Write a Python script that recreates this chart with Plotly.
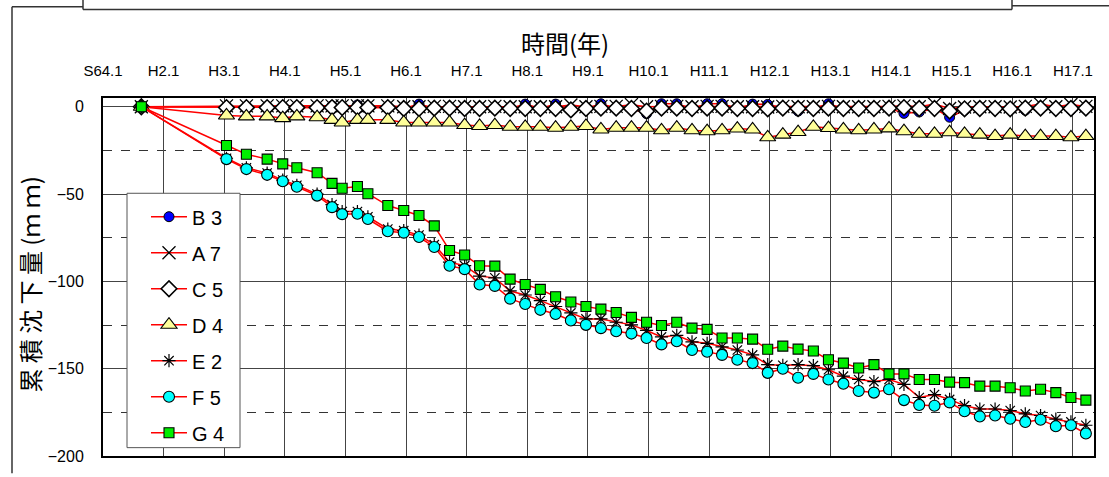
import plotly.graph_objects as go

# Survey dates (first reading, then irregular, then quarterly)
dates = [
    "1989-08-20",
    "1991-01-15", "1991-05-15", "1991-09-17", "1991-12-20",
    "1992-03-14", "1992-07-14", "1992-10-12", "1992-12-12",
    "1993-03-14", "1993-05-16", "1993-09-13", "1993-12-18",
    "1994-03-20", "1994-06-20", "1994-09-20", "1994-12-20",
    "1995-03-20", "1995-06-20", "1995-09-20", "1995-12-20",
    "1996-03-20", "1996-06-20", "1996-09-20", "1996-12-20",
    "1997-03-20", "1997-06-20", "1997-09-20", "1997-12-20",
    "1998-03-20", "1998-06-20", "1998-09-20", "1998-12-20",
    "1999-03-20", "1999-06-20", "1999-09-20", "1999-12-20",
    "2000-03-20", "2000-06-20", "2000-09-20", "2000-12-20",
    "2001-03-20", "2001-06-20", "2001-09-20", "2001-12-20",
    "2002-03-20", "2002-06-20", "2002-09-20", "2002-12-20",
    "2003-03-20", "2003-06-20", "2003-09-20", "2003-12-20",
    "2004-03-20", "2004-06-20", "2004-09-20", "2004-12-20",
    "2005-03-20",
]

# Cumulative settlement (mm) per benchmark
b3 = [0, -0.5, -0.5, -0.5, -0.5, -0.5, -0.5, 0.5, -0.5, 1.0, -0.5, -0.5, -1.0,
      1.5, -0.8, -0.8, -1.0, -1.0, -0.8, -1.0, 1.5, -1.0, 1.5, -1.8, -1.0,
      1.7, -0.8, -1.0, -4.0, 1.7, 1.7, -1.0, 1.7, 1.7, -1.0, 1.5, 1.3,
      -0.8, -2.5, -1.0, 1.7, -1.0, -1.0, -1.0, -0.8, -3.8, -3.0, -1.0,
      -6.0, -2.0, -1.0, -1.0, -1.2, -2.0, -0.8, -1.0, -1.8, -0.8]
a7 = [0, 0.5, 0.5, 0.5, 0.5, 0.5, 0.5, 0.5, 0.5, 0.5, 0.5, 0.5, 0.0,
      0.0, 0.2, 0.2, 0.0, 0.0, 0.2, 0.0, 0.0, 0.0, 0.0, 1.0, 0.0,
      0.2, 0.2, 1.2, 0.0, 0.2, 0.2, 0.0, 0.2, 0.2, 0.0, 0.0, -0.2,
      0.2, 0.0, 0.0, 0.2, 0.0, 0.0, 0.0, 0.2, 0.5, 0.0, 1.5,
      -1.0, -0.2, 0.0, 0.0, -0.2, 0.2, 1.5, 0.0, 1.3, 0.2]
c5 = [0, -0.5, -0.5, -0.5, -0.5, -0.5, -0.5, -0.5, -0.5, -0.5, -0.5, -0.5, -1.0,
      -1.0, -0.8, -0.8, -1.0, -1.0, -0.8, -1.0, -1.0, -1.0, -1.0, -1.8, -1.0,
      -0.8, -0.8, -1.0, -2.5, -0.8, -0.8, -1.0, -0.8, -0.8, -1.0, -1.0, -1.2,
      -0.8, -1.0, -1.0, -0.8, -1.0, -1.0, -1.0, -0.8, -0.5, -1.0, -1.0,
      -2.5, -1.2, -1.0, -1.0, -1.2, -0.8, -0.8, -1.0, -1.0, -0.8]
d4 = [0, -5.0, -5.5, -5.5, -6.5, -5.5, -6.0, -7.5, -9.0, -7.5, -7.5, -7.5, -9.0,
      -9.0, -9.0, -9.0, -10.5, -11.0, -10.5, -11.5, -11.5, -11.5, -12.0, -11.5, -11.0,
      -13.0, -12.0, -12.0, -12.0, -13.5, -12.0, -13.5, -14.0, -13.5, -12.5, -13.0, -17.5,
      -16.0, -14.5, -11.5, -12.2, -13.0, -13.5, -13.0, -12.4, -14.0, -15.5, -15.5,
      -14.6, -15.5, -16.0, -16.8, -16.0, -16.8, -16.8, -16.8, -17.5, -16.8]
e2 = [0, -29.5, -35.0, -38.0, -42.0, -45.0, -50.0, -56.0, -60.0, -60.0, -63.0, -70.0, -71.0,
      -73.5, -79.0, -89.0, -91.0, -97.0, -98.0, -105.5, -107.8, -111.0, -114.4, -118.1, -121.5,
      -121.5, -123.4, -124.9, -128.1, -131.8, -130.9, -134.6, -135.5, -137.5, -139.3, -142.1, -147.7,
      -148.1, -147.7, -148.3, -150.6, -154.3, -156.2, -157.4, -156.2, -159.0, -166.5, -164.8,
      -167.6, -171.2, -173.1, -173.1, -174.0, -175.9, -176.8, -178.9, -180.5, -182.4]
f5 = [0, -30.0, -35.7, -39.0, -42.7, -45.8, -50.9, -57.5, -61.5, -61.3, -64.3, -71.3, -72.1,
      -74.6, -80.3, -91.1, -93.0, -101.8, -102.6, -109.9, -113.0, -116.3, -118.7, -122.4, -124.9,
      -126.8, -128.6, -129.9, -132.4, -136.1, -134.3, -139.3, -140.3, -142.1, -144.9, -146.8, -152.4,
      -150.0, -155.2, -153.0, -156.2, -158.6, -162.8, -163.7, -161.8, -168.0, -170.8, -171.2,
      -169.3, -174.4, -177.4, -176.8, -178.7, -180.5, -179.2, -183.0, -182.4, -187.1]
g4 = [0, -22.2, -27.2, -30.0, -32.7, -34.9, -37.8, -43.9, -46.7, -45.7, -49.8, -56.6, -59.4,
      -62.3, -68.2, -82.3, -84.9, -91.1, -91.3, -98.7, -101.8, -104.6, -108.8, -111.8, -114.4,
      -115.9, -117.8, -120.6, -123.4, -125.3, -123.4, -126.8, -127.5, -132.4, -132.4, -133.1, -138.9,
      -137.1, -138.8, -139.9, -144.9, -146.8, -149.6, -147.7, -153.0, -153.0, -156.2, -156.2,
      -157.7, -158.0, -160.0, -160.0, -160.9, -162.8, -161.8, -163.7, -166.5, -168.0]

series_names = ["B 3", "A 7", "C 5", "D 4", "E 2", "F 5", "G 4"]
series_values = [b3, a7, c5, d4, e2, f5, g4]

tick_dates = ["1989-01-01", "1990-01-01", "1991-01-01", "1992-01-01", "1993-01-01",
              "1994-01-01", "1995-01-01", "1996-01-01", "1997-01-01", "1998-01-01",
              "1999-01-01", "2000-01-01", "2001-01-01", "2002-01-01", "2003-01-01",
              "2004-01-01", "2005-01-01"]
tick_labels = ["S64.1", "H2.1", "H3.1", "H4.1", "H5.1", "H6.1", "H7.1", "H8.1", "H9.1",
               "H10.1", "H11.1", "H12.1", "H13.1", "H14.1", "H15.1", "H16.1", "H17.1"]

marker_styles = [
    dict(symbol="circle", size=10, color="#0000ff", line=dict(color="black", width=1)),
    dict(symbol="x-thin-open", size=13, color="black", line=dict(color="black", width=1.3)),
    dict(symbol="diamond", size=12, color="white", line=dict(color="black", width=1.6)),
    dict(symbol="triangle-up", size=14, color="#ffff99", line=dict(color="black", width=1.1)),
    dict(symbol="asterisk-open", size=11, color="black", line=dict(color="black", width=1.2)),
    dict(symbol="circle", size=11, color="#00ffff", line=dict(color="black", width=1.1)),
    dict(symbol="square", size=10, color="#00ee00", line=dict(color="black", width=1.1)),
]

sans = "Liberation Sans, Arial, sans-serif"
cjk = "Noto Sans CJK JP, sans-serif"

fig = go.Figure()
for name, vals, mk in zip(series_names, series_values, marker_styles):
    fig.add_trace(go.Scatter(
        x=dates, y=vals, name=name, legendgroup=name,
        mode="lines+markers",
        line=dict(color="#ff0000", width=1.5),
        marker=mk,
    ))

W, H = 1109, 477
L, R, T, B = 103, 15, 98, 14.5
pw, ph = W - L - R, H - T - B


def px(xp):
    return (xp - L) / pw


def py(yp):
    return (H - B - yp) / ph


frame = dict(type="line", xref="paper", yref="paper",
             line=dict(color="#333333", width=1.5))
shapes = [
    dict(frame, x0=px(12), x1=px(12), y0=py(5), y1=py(480)),
    dict(frame, x0=px(12), x1=px(83), y0=py(5), y1=py(5)),
    dict(frame, x0=px(83), x1=px(83), y0=py(-5), y1=py(8)),
    dict(frame, x0=px(83), x1=px(1012), y0=py(8), y1=py(8)),
    dict(frame, x0=px(1012), x1=px(1012), y0=py(-5), y1=py(8)),
    dict(frame, x0=px(1012), x1=px(1115), y0=py(4), y1=py(4)),
    # legend panel
    dict(type="rect", xref="paper", yref="paper", layer="above",
         x0=px(127), x1=px(240), y0=py(454), y1=py(195),
         fillcolor="white", line=dict(color="#555555", width=1)),
]

fig.update_layout(
    width=W, height=H,
    margin=dict(l=L, r=R, t=T, b=B),
    paper_bgcolor="white", plot_bgcolor="white",
    showlegend=True,
    legend=dict(
        x=px(146), y=py(199), xanchor="left", yanchor="top",
        bgcolor="rgba(0,0,0,0)", borderwidth=0,
        font=dict(family=sans, size=20, color="black"),
        tracegroupgap=7, traceorder="grouped",
        itemwidth=36,
    ),
    shapes=shapes,
    annotations=[
        dict(text="時間(年)", xref="paper", yref="paper", x=px(565), y=py(42),
             xanchor="center", yanchor="middle",
             showarrow=False, font=dict(family=cjk, size=24, color="black")),
        dict(text="累 積 沈 下 量 (ｍ ｍ)", xref="paper", yref="paper", x=px(30), y=py(288),
             xanchor="center", yanchor="middle",
             textangle=-90, showarrow=False, font=dict(family=cjk, size=24, color="black")),
    ],
)

fig.update_xaxes(
    type="date", side="top",
    range=["1989-01-01", "2005-05-08"],
    tickmode="array", tickvals=tick_dates, ticktext=tick_labels,
    tickfont=dict(family=sans, size=15, color="black"),
    ticks="outside", ticklen=14, tickcolor="rgba(0,0,0,0)",
    showgrid=True, gridcolor="#444444", gridwidth=1,
    showline=True, linecolor="black", linewidth=2, mirror=True,
)
fig.update_yaxes(
    range=[-200, 5],
    tickmode="array", tickvals=[0, -50, -100, -150, -200],
    tickfont=dict(family=sans, size=16, color="black"),
    ticks="outside", ticklen=14, tickcolor="rgba(0,0,0,0)",
    showgrid=True, gridcolor="#444444", gridwidth=1, zeroline=False,
    minor=dict(tickvals=[-25, -75, -125, -175], showgrid=True,
               gridcolor="#333333", griddash="dash", gridwidth=1),
    showline=True, linecolor="black", linewidth=2, mirror=True,
)

fig.write_html("out.html")
